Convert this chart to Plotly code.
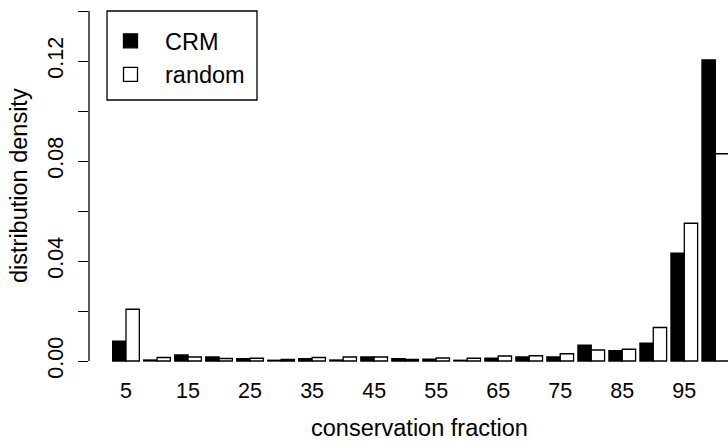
import plotly.graph_objects as go

# ---- data ----
categories = [5, 10, 15, 20, 25, 30, 35, 40, 45, 50,
              55, 60, 65, 70, 75, 80, 85, 90, 95, 100]
crm = [0.0079, 0.0004, 0.0024, 0.0016, 0.0009, 0.0003, 0.0009, 0.0004, 0.0016, 0.0009,
       0.0007, 0.0003, 0.0011, 0.0016, 0.0016, 0.0063, 0.0041, 0.0071, 0.0431, 0.1204]
random_ = [0.0207, 0.0014, 0.0016, 0.0010, 0.0011, 0.0006, 0.0014, 0.0016, 0.0016, 0.0006,
           0.0012, 0.0011, 0.0020, 0.0021, 0.0029, 0.0044, 0.0047, 0.0134, 0.0551, 0.0829]
x_tick_vals = [5, 15, 25, 35, 45, 55, 65, 75, 85, 95]
x_tick_text = ["5", "15", "25", "35", "45", "55", "65", "75", "85", "95"]
y_tick_vals = [0.00, 0.02, 0.04, 0.06, 0.08, 0.10, 0.12, 0.14]
y_tick_text = ["0.00", "", "0.04", "", "0.08", "", "0.12", ""]
series_names = ["CRM", "random"]

# ---- layout geometry (pixels) ----
W, H = 728, 441
L, R, T, B = 89, 0, 0, 66
PW, PH = W - L - R, H - T - B
FONT = "Liberation Sans, Arial, Helvetica, sans-serif"
FS_TICK = 21.5
FS_LAB = 23.5
LW = 1.3


def px_x(p):
    return (p - L) / PW


def px_y(p):
    return (T + PH - p) / PH


fig = go.Figure()
fig.add_trace(go.Bar(x=categories, y=crm, name=series_names[0], showlegend=False,
                     marker=dict(color="black", line=dict(color="black", width=LW))))
fig.add_trace(go.Bar(x=categories, y=random_, name=series_names[1], showlegend=False,
                     marker=dict(color="white", line=dict(color="black", width=LW))))
# legend entries
fig.add_trace(go.Scatter(x=[None], y=[None], mode="markers", name=series_names[0],
                         marker=dict(symbol="square", size=14, color="black",
                                     line=dict(color="black", width=LW))))
fig.add_trace(go.Scatter(x=[None], y=[None], mode="markers", name=series_names[1],
                         marker=dict(symbol="square", size=14, color="white",
                                     line=dict(color="black", width=LW))))

fig.update_layout(
    width=W, height=H,
    margin=dict(l=L, r=R, t=T, b=B, pad=0),
    paper_bgcolor="white", plot_bgcolor="white",
    font=dict(family=FONT, size=FS_TICK, color="black"),
    barmode="group", bargap=0.14, bargroupgap=0,
    showlegend=True,
    legend=dict(x=px_x(96), y=px_y(19), xanchor="left", yanchor="top",
                bgcolor="rgba(0,0,0,0)", borderwidth=0, itemwidth=59,
                font=dict(family=FONT, size=FS_LAB, color="black")),
    xaxis=dict(range=[-0.9646, 102.045], showline=False, showgrid=False, zeroline=False,
               tickmode="array", tickvals=x_tick_vals, ticktext=x_tick_text,
               ticks="", tickfont=dict(family=FONT, size=FS_TICK, color="black"),
               automargin=False),
    yaxis=dict(range=[-0.0056, 0.1444], showline=False, showgrid=False, zeroline=False,
               tickmode="array", tickvals=y_tick_vals, ticktext=y_tick_text,
               ticks="outside", ticklen=10, tickwidth=LW, tickcolor="black",
               tickangle=-90, ticklabelstandoff=6,
               tickfont=dict(family=FONT, size=FS_TICK, color="black"),
               automargin=False),
    shapes=[
        dict(type="line", xref="paper", yref="y", x0=0, x1=0, y0=0, y1=0.14,
             line=dict(color="black", width=LW)),
        dict(type="rect", xref="paper", yref="paper",
             x0=px_x(107), x1=px_x(257), y0=px_y(100), y1=px_y(11),
             line=dict(color="black", width=LW), fillcolor="rgba(0,0,0,0)"),
    ],
    annotations=[
        dict(text="conservation fraction", xref="paper", yref="paper",
             x=px_x(419), y=px_y(428), xanchor="center", yanchor="middle",
             showarrow=False, font=dict(family=FONT, size=FS_LAB, color="black")),
        dict(text="distribution density", xref="paper", yref="paper",
             x=px_x(19), y=px_y(186), xanchor="center", yanchor="middle",
             textangle=-90, showarrow=False,
             font=dict(family=FONT, size=FS_LAB, color="black")),
    ],
)

fig.write_html("out.html", config={"displayModeBar": False},
               post_script="document.body.style.margin='0';")
